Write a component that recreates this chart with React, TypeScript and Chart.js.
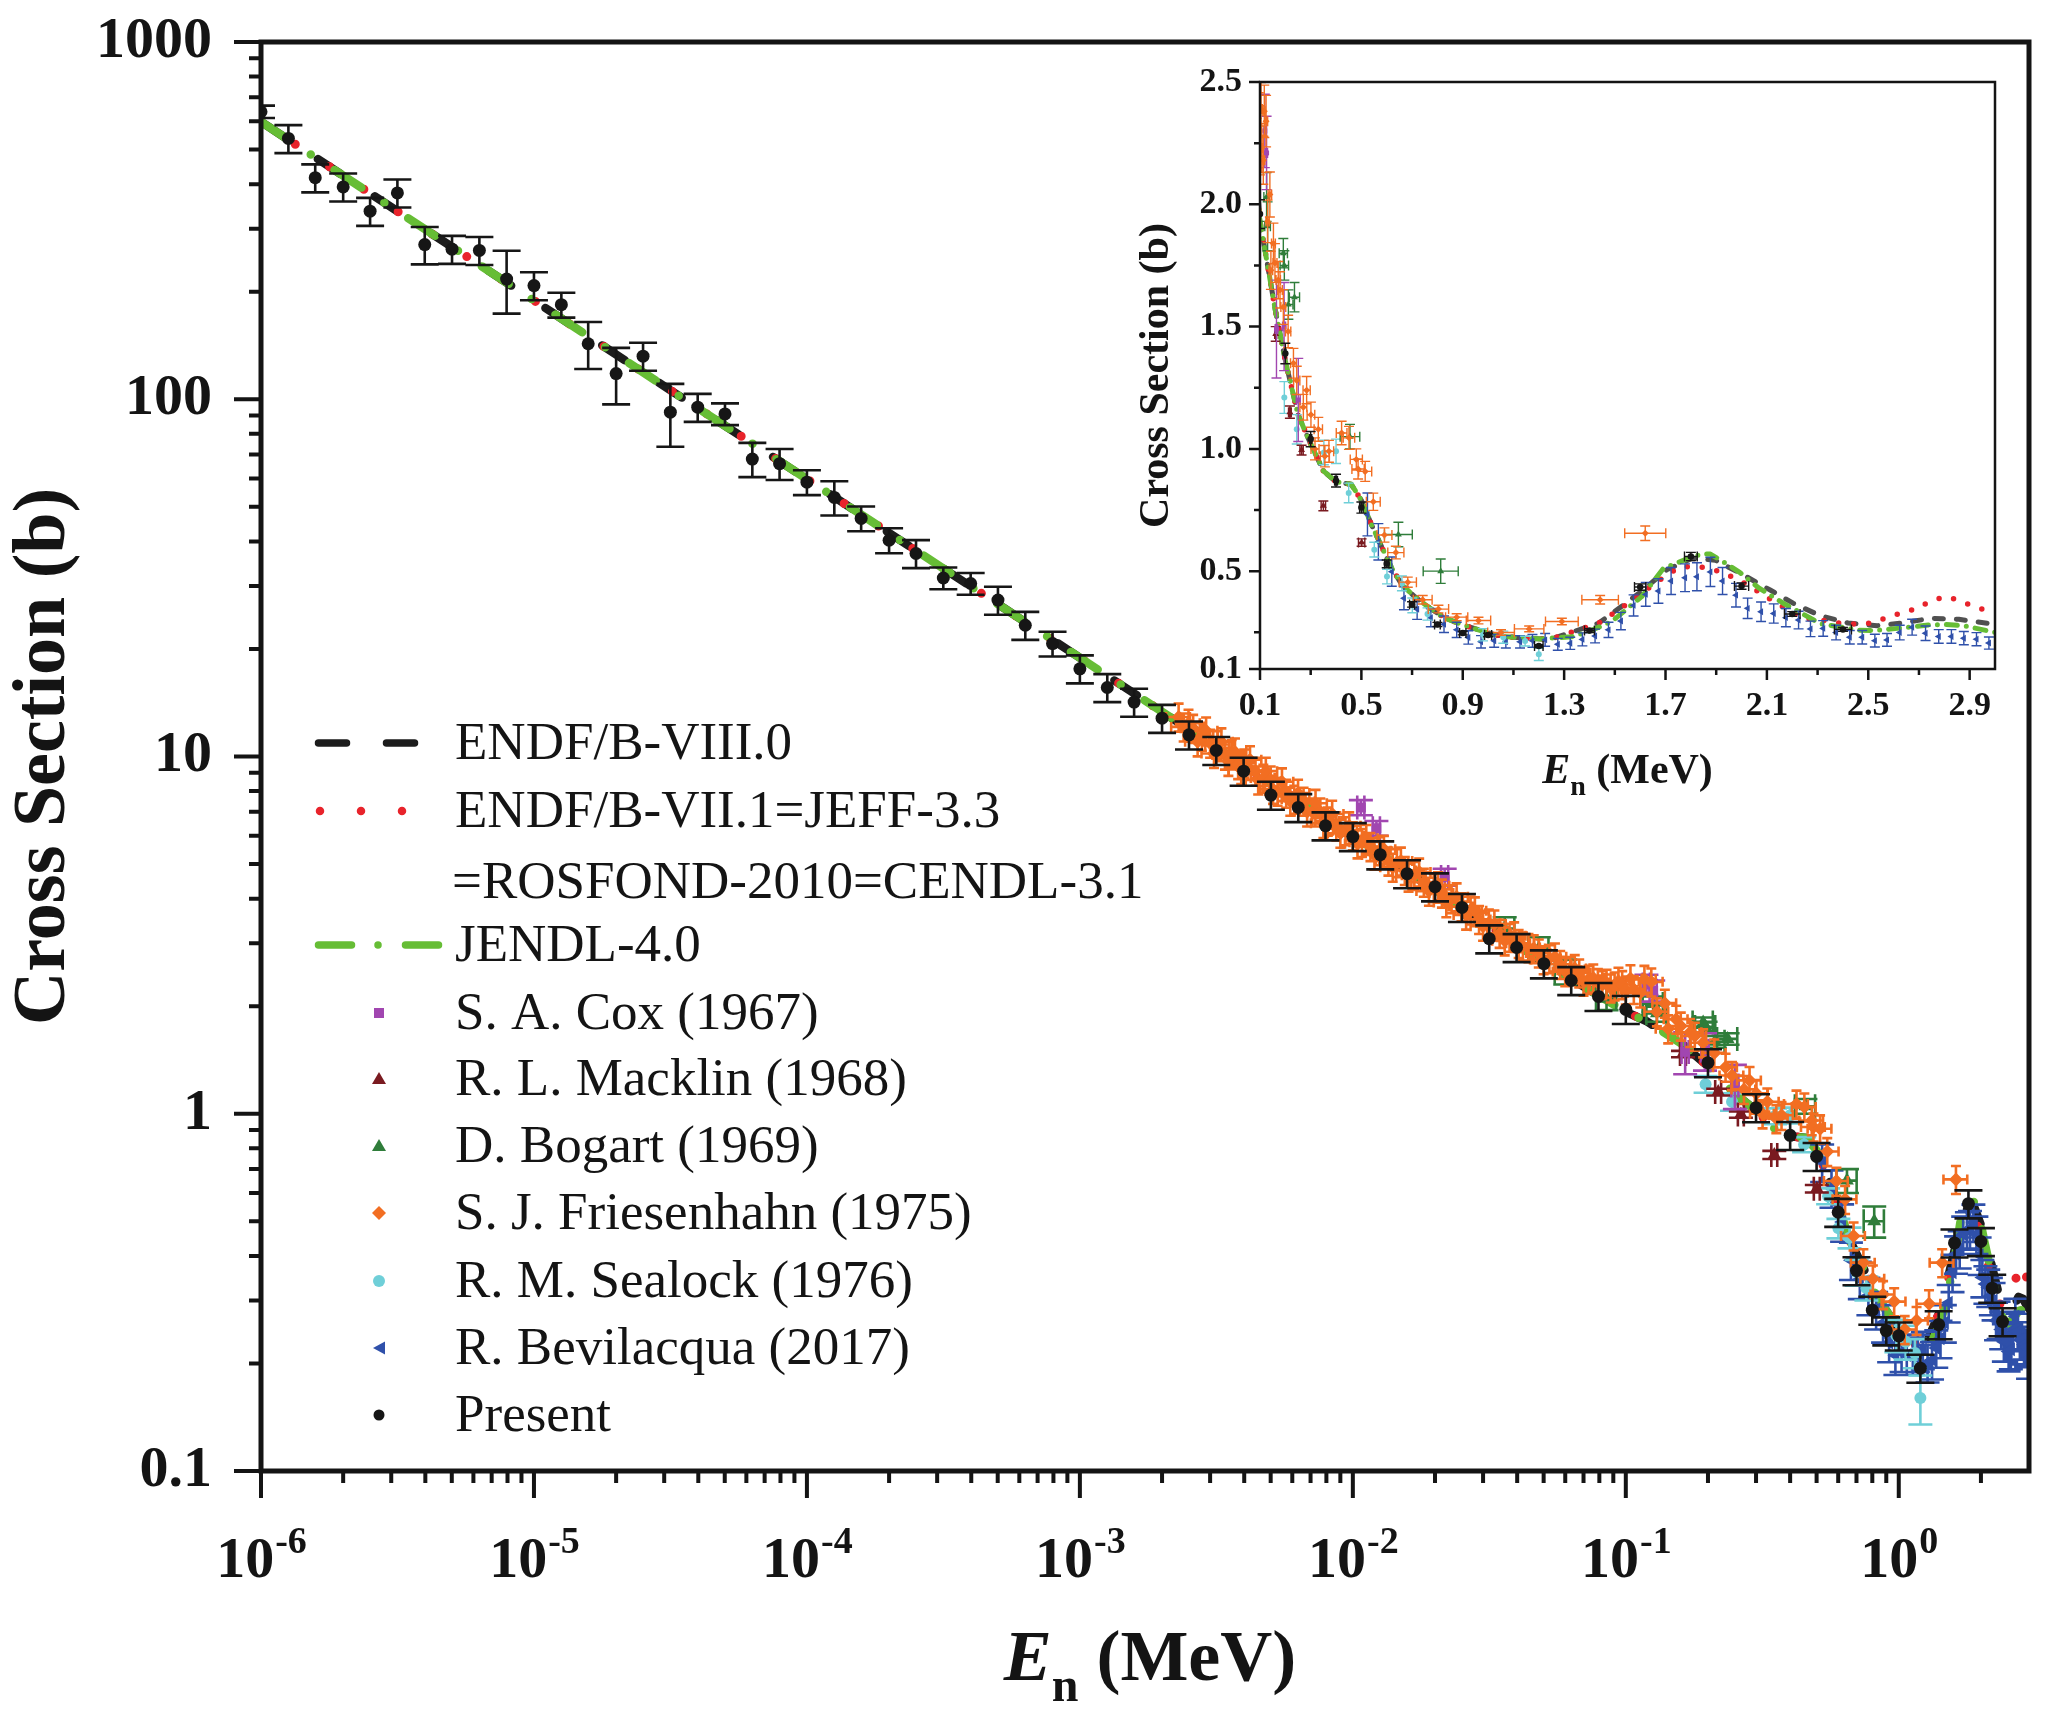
import React, { useEffect, useRef } from "react";
import { Chart, registerables } from "chart.js";

Chart.register(...registerables);

const SERIF = '"Liberation Serif", "Times New Roman", serif';
const INK = "#141414";

// ---------- evaluated libraries (they coincide below ~1.3 MeV) ----------
const evalLowE = [1e-6, 3.16e-6, 1e-5, 3.16e-5, 1e-4, 3.16e-4, 1e-3, 3.16e-3, 1e-2, 3.16e-2, 0.05, 0.1, 0.12, 0.16, 0.2, 0.25, 0.3, 0.35, 0.4, 0.46, 0.5, 0.54, 0.58, 0.62, 0.66, 0.71, 0.77, 0.83, 0.9, 0.98, 1.05, 1.13, 1.21, 1.26];
const evalLowSigma = [598, 336, 189, 106, 59.8, 33.6, 18.9, 10.6, 6.0, 3.36, 2.65, 1.93, 1.81, 1.57, 1.36, 1.14, 1.02, 0.91, 0.865, 0.855, 0.79, 0.69, 0.6, 0.512, 0.444, 0.396, 0.349, 0.308, 0.281, 0.254, 0.234, 0.227, 0.223, 0.227];

const endf8HighE = [1.317, 1.435, 1.527, 1.613, 1.705, 1.804, 1.896, 2.008, 2.113, 2.205, 2.311, 2.42, 2.535, 2.64, 2.745, 2.857, 2.969, 3.0];
const endf8HighSigma = [0.246, 0.287, 0.356, 0.424, 0.506, 0.552, 0.545, 0.484, 0.423, 0.368, 0.318, 0.288, 0.277, 0.289, 0.307, 0.303, 0.287, 0.285];

const endf7HighE = [1.317, 1.435, 1.527, 1.613, 1.692, 1.752, 1.818, 1.877, 1.94, 2.002, 2.061, 2.118, 2.173, 2.239, 2.305, 2.368, 2.436, 2.502, 2.565, 2.627, 2.693, 2.752, 2.814, 2.877, 2.94, 3.0];
const endf7HighSigma = [0.246, 0.287, 0.35, 0.415, 0.475, 0.515, 0.52, 0.511, 0.488, 0.457, 0.42, 0.382, 0.348, 0.307, 0.303, 0.289, 0.284, 0.287, 0.307, 0.328, 0.348, 0.382, 0.395, 0.372, 0.348, 0.33];

const jendlHighE = [1.33, 1.396, 1.488, 1.606, 1.692, 1.79, 1.843, 1.877, 1.937, 1.994, 2.066, 2.166, 2.219, 2.311, 2.462, 2.521, 2.587, 2.738, 2.804, 2.877, 2.99, 3.0];
const jendlHighSigma = [0.232, 0.253, 0.294, 0.396, 0.512, 0.552, 0.57, 0.57, 0.533, 0.494, 0.433, 0.368, 0.338, 0.285, 0.259, 0.257, 0.263, 0.28, 0.282, 0.277, 0.252, 0.25];

// ---------- experiments ----------
const presentE = [
  1e-6, 1.26e-6, 1.58e-6, 2.0e-6, 2.51e-6, 3.16e-6, 3.98e-6, 5.01e-6, 6.31e-6, 7.94e-6,
  1e-5, 1.26e-5, 1.58e-5, 2.0e-5, 2.51e-5, 3.16e-5, 3.98e-5, 5.01e-5, 6.31e-5, 7.94e-5,
  1e-4, 1.26e-4, 1.58e-4, 2.0e-4, 2.51e-4, 3.16e-4, 3.98e-4, 5.01e-4, 6.31e-4, 7.94e-4,
  1e-3, 1.26e-3, 1.58e-3, 2.0e-3, 2.51e-3, 3.16e-3, 3.98e-3, 5.01e-3, 6.31e-3, 7.94e-3,
  1e-2, 1.26e-2, 1.58e-2, 2.0e-2, 2.51e-2, 3.16e-2, 3.98e-2, 5.01e-2, 6.31e-2, 7.94e-2,
  0.1, 0.2, 0.3, 0.4, 0.5, 0.6, 0.7, 0.8, 0.9, 1.0, 1.2, 1.4, 1.6, 1.8, 2.0, 2.2, 2.4,
];
const presentSigma = [
  638, 537, 417, 393, 336, 378, 271, 263, 261, 217,
  208, 184, 143, 118, 132, 92, 95, 91, 68, 66,
  58.6, 53.1, 46.4, 40.3, 37.0, 31.6, 30.5, 27.4, 23.3, 20.7,
  17.6, 15.6, 14.2, 12.8, 11.5, 10.4, 9.1, 7.8, 7.2, 6.4,
  5.97, 5.31, 4.7, 4.32, 3.78, 3.09, 2.92, 2.63, 2.36, 2.13,
  1.96, 1.39, 1.04, 0.87, 0.76, 0.53, 0.364, 0.282, 0.247, 0.239, 0.194, 0.257, 0.435, 0.56, 0.439, 0.325, 0.262,
];
// relative uncertainty (%) as drawn in the main panel
const presentErrPct = [
  4, 9, 9, 9, 9, 9, 12, 9, 9, 20,
  9, 8, 15, 18, 9, 20, 9, 7, 11, 10,
  8, 11, 8, 8, 9, 7, 7, 9, 9, 8,
  9, 9, 9, 9, 9, 9, 9, 9, 9, 9,
  9, 9, 9, 9, 9, 9, 9, 9, 9, 9,
  9, 9, 9, 9, 9, 9, 9, 9, 9, 9, 9, 9, 9, 9, 9, 9, 9,
];
const presentInsetErrPct = 3;
const presentInsetEnergyErrPct = 1.4;

const coxE = [0.0107, 0.0122, 0.0217, 0.119, 0.126, 0.165, 0.195, 0.251];
const coxSigma = [7.2, 6.3, 4.6, 2.3, 2.21, 1.49, 1.5, 1.2];
const coxErr = [0.35, 0.3, 0.25, 0.15, 0.15, 0.2, 0.18, 0.17];

const macklinE = [0.162, 0.218, 0.264, 0.35, 0.501];
const macklinSigma = [1.47, 1.15, 0.995, 0.767, 0.617];
const macklinErr = [0.03, 0.025, 0.02, 0.02, 0.015];
const macklinEnergyErrPct = 2.5;

const bogartE = [0.036, 0.048, 0.06, 0.085, 0.126, 0.13, 0.192, 0.196, 0.212, 0.236, 0.455, 0.646, 0.813];
const bogartSigma = [3.3, 2.9, 2.5, 2.1, 2.03, 1.91, 1.8, 1.75, 1.59, 1.62, 1.05, 0.65, 0.5];
const bogartErr = [0.25, 0.22, 0.2, 0.15, 0.1, 0.1, 0.06, 0.06, 0.06, 0.06, 0.05, 0.05, 0.05];
const bogartEnergyErrPct = 8.5;

const friesenhahnE = [
  0.0023, 0.0024, 0.0025, 0.0026, 0.0027, 0.0028, 0.0029, 0.003, 0.0031, 0.0032,
  0.0033, 0.0034, 0.0035, 0.0036, 0.0037, 0.0038, 0.0039, 0.004, 0.0042, 0.0044,
  0.0045, 0.0047, 0.0048, 0.005, 0.0051, 0.0053, 0.0055, 0.0057, 0.0059, 0.0061,
  0.0063, 0.0066, 0.0068, 0.0071, 0.0073, 0.0076, 0.0078, 0.0081, 0.0084, 0.0087,
  0.009, 0.0094, 0.0097, 0.01, 0.0104, 0.0108, 0.0112, 0.0116, 0.012, 0.0125,
  0.013, 0.0135, 0.014, 0.0145, 0.015, 0.0155, 0.016, 0.0168, 0.0175, 0.0182,
  0.019, 0.0198, 0.0205, 0.0212, 0.022, 0.023, 0.024, 0.025, 0.026, 0.027,
  0.028, 0.029, 0.03, 0.0315, 0.033, 0.0345, 0.036, 0.0375, 0.039, 0.0405,
  0.042, 0.044, 0.046, 0.048, 0.05, 0.0525, 0.055, 0.0575, 0.06, 0.0625,
  0.065, 0.0675, 0.07, 0.073, 0.076, 0.079, 0.082, 0.085, 0.088, 0.091,
  0.094, 0.097, 0.1, 0.104, 0.107, 0.113, 0.117, 0.124, 0.13, 0.139,
  0.143, 0.153, 0.159, 0.172, 0.179, 0.192, 0.211, 0.232, 0.245, 0.271,
  0.284, 0.301, 0.317, 0.33, 0.356, 0.372, 0.422, 0.451, 0.48, 0.487,
  0.515, 0.547, 0.591, 0.636, 0.683, 0.742, 0.804, 0.876, 0.962, 1.051,
  1.162, 1.291, 1.442, 1.62,
];
const friesenhahnSigma = [
  12.9, 12.1, 12.4, 12.0, 11.0, 11.4, 11.8, 10.9, 10.2, 10.8,
  11.0, 10.1, 9.7, 10.2, 10.3, 9.5, 9.2, 9.6, 9.8, 9.1,
  8.6, 8.7, 9.1, 8.6, 8.1, 8.0, 8.5, 7.9, 7.5, 7.6,
  7.9, 7.5, 7.0, 7.0, 7.4, 7.0, 6.5, 6.6, 6.9, 6.4,
  6.1, 6.2, 6.4, 6.0, 5.7, 5.75, 5.9, 5.6, 5.3, 5.45,
  5.5, 5.1, 4.9, 5.05, 5.1, 4.8, 4.6, 4.65, 4.75, 4.45,
  4.2, 4.3, 4.35, 4.15, 3.9, 4.0, 4.05, 3.8, 3.6, 3.72,
  3.7, 3.5, 3.35, 3.42, 3.4, 3.2, 3.05, 3.12, 3.15, 3.0,
  2.95, 2.92, 2.9, 2.82, 2.7, 2.72, 2.75, 2.62, 2.5, 2.52,
  2.55, 2.48, 2.35, 2.38, 2.4, 2.33, 2.3, 2.32, 2.25, 2.28,
  2.35, 2.3, 2.22, 2.39, 2.23, 2.18, 2.38, 2.34, 1.93, 2.04,
  1.73, 1.84, 1.76, 1.69, 1.65, 1.58, 1.48, 1.35, 1.28, 1.17,
  1.24, 1.14, 1.0, 1.08, 0.97, 0.99, 1.065, 1.045, 0.957, 0.918,
  0.908, 0.784, 0.648, 0.576, 0.455, 0.383, 0.345, 0.312, 0.298, 0.249,
  0.264, 0.294, 0.383, 0.655,
];
const friesenhahnErrPct = { main: 9, inset: 4.5 };
const friesenhahnEnergyErrPct = { main: 10, inset: 5 };

const sealockE = [0.196, 0.245, 0.352, 0.4, 0.45, 0.551, 0.601, 0.66, 0.701, 0.761, 0.98, 1.06, 1.146, 1.2];
const sealockSigma = [1.21, 1.08, 0.985, 0.99, 0.82, 0.588, 0.478, 0.45, 0.36, 0.325, 0.24, 0.23, 0.214, 0.16];
const sealockErr = [0.065, 0.06, 0.05, 0.05, 0.04, 0.03, 0.03, 0.03, 0.03, 0.025, 0.025, 0.025, 0.02, 0.025];

const bevilacquaE = [
  0.524, 0.567, 0.62, 0.668, 0.72, 0.774, 0.826, 0.876, 0.922, 0.972,
  1.024, 1.07, 1.126, 1.175, 1.225, 1.275, 1.324, 1.372, 1.422, 1.475,
  1.524, 1.574, 1.622, 1.672, 1.722, 1.777, 1.824, 1.877, 1.925, 1.978,
  2.024, 2.077, 2.127, 2.175, 2.225, 2.272, 2.322, 2.373, 2.427, 2.476,
  2.526, 2.574, 2.624, 2.673, 2.726, 2.778, 2.828, 2.877, 2.927, 2.976,
];
const bevilacquaSigma = [
  0.732, 0.62, 0.498, 0.389, 0.344, 0.31, 0.283, 0.26, 0.229, 0.211,
  0.215, 0.211, 0.211, 0.215, 0.219, 0.201, 0.205, 0.221, 0.235, 0.26,
  0.296, 0.36, 0.405, 0.419, 0.46, 0.473, 0.477, 0.497, 0.46, 0.402,
  0.348, 0.334, 0.327, 0.31, 0.3, 0.264, 0.266, 0.249, 0.23, 0.23,
  0.216, 0.219, 0.249, 0.271, 0.246, 0.233, 0.233, 0.226, 0.222, 0.206,
];
const bevilacquaErrPct = 12;

// ---------- axes ----------
const mainXTicks = [1e-6, 1e-5, 1e-4, 1e-3, 1e-2, 1e-1, 1];
const mainXExponents = ["-6", "-5", "-4", "-3", "-2", "-1", "0"];
const mainYTicks = [0.1, 1, 10, 100, 1000];
const mainYLabels = ["0.1", "1", "10", "100", "1000"];

const insetXTicks = [0.1, 0.5, 0.9, 1.3, 1.7, 2.1, 2.5, 2.9];
const insetXLabels = ["0.1", "0.5", "0.9", "1.3", "1.7", "2.1", "2.5", "2.9"];
const insetXMinor = [0.3, 0.7, 1.1, 1.5, 1.9, 2.3, 2.7];
const insetYTicks = [0.1, 0.5, 1.0, 1.5, 2.0, 2.5];
const insetYLabels = ["0.1", "0.5", "1.0", "1.5", "2.0", "2.5"];
const insetYMinor = [0.25, 0.75, 1.25, 1.75, 2.25];

const legendRows = [
  { text: "ENDF/B-VIII.0", kind: "dash", y: 743 },
  { text: "ENDF/B-VII.1=JEFF-3.3", kind: "dot", y: 811 },
  { text: "=ROSFOND-2010=CENDL-3.1", kind: "none", y: 882 },
  { text: "JENDL-4.0", kind: "dashdot", y: 945 },
  { text: "S. A. Cox (1967)", kind: "square", y: 1013 },
  { text: "R. L. Macklin (1968)", kind: "triMacklin", y: 1079 },
  { text: "D. Bogart (1969)", kind: "triBogart", y: 1146 },
  { text: "S. J. Friesenhahn (1975)", kind: "diamond", y: 1213 },
  { text: "R. M. Sealock (1976)", kind: "circleCyan", y: 1281 },
  { text: "R. Bevilacqua (2017)", kind: "triLeft", y: 1348 },
  { text: "Present", kind: "circleBlack", y: 1415 },
];

const C = {
  endf8: "#1c1c1c",
  endf8Inset: "#505050",
  endf7: "#e8232b",
  jendl: "#66bd35",
  present: "#161616",
  cox: "#a146b0",
  macklin: "#7a1a20",
  bogart: "#2f7d3a",
  friesenhahn: "#f26e22",
  sealock: "#6fcfd8",
  bevilacqua: "#2f50aa",
};

const W = 2047;
const H = 1713;
const INSET = { left: 1100, top: 40, width: 940, height: 780 };

type Pt = { x: number; y: number; ey: number; ex: number };

const points = (E: number[], S: number[], dS: number[], dE: number[]): Pt[] =>
  E.map((e, i) => ({ x: e, y: S[i], ey: dS[i] || 0, ex: dE[i] || 0 }));
const curve = (E: number[], S: number[]) => E.map((e, i) => ({ x: e, y: S[i] }));
const pct = (arr: number[], p: number | number[]) =>
  arr.map((v, i) => (v * (Array.isArray(p) ? p[i] : p)) / 100);

// ---------- plugins ----------
const errorBarPlugin = {
  id: "errorBars",
  beforeDatasetDraw(chart: any, args: any) {
    const ds = chart.data.datasets[args.index];
    if (!ds.errBars) return;
    const { ctx, chartArea: a } = chart;
    const xs = chart.scales.x;
    const ys = chart.scales.y;
    const { color, width, cap } = ds.errBars;
    const logY = ys.type === "logarithmic";
    ctx.save();
    ctx.beginPath();
    ctx.rect(a.left, a.top, a.right - a.left, a.bottom - a.top);
    ctx.clip();
    ctx.strokeStyle = color;
    ctx.lineWidth = width;
    ctx.lineCap = "butt";
    ctx.beginPath();
    for (const p of ds.data as Pt[]) {
      const px = xs.getPixelForValue(p.x);
      const py = ys.getPixelForValue(p.y);
      if (px < a.left - 60 || px > a.right + 60) continue;
      if (p.ey > 0) {
        const t = ys.getPixelForValue(p.y + p.ey);
        const lowV = p.y - p.ey;
        const b = ys.getPixelForValue(logY && lowV <= 0 ? p.y * 0.5 : lowV);
        ctx.moveTo(px, t);
        ctx.lineTo(px, b);
        ctx.moveTo(px - cap, t);
        ctx.lineTo(px + cap, t);
        ctx.moveTo(px - cap, b);
        ctx.lineTo(px + cap, b);
      }
      if (p.ex > 0) {
        const l = xs.getPixelForValue(p.x - p.ex);
        const r = xs.getPixelForValue(p.x + p.ex);
        ctx.moveTo(l, py);
        ctx.lineTo(r, py);
        ctx.moveTo(l, py - cap);
        ctx.lineTo(l, py + cap);
        ctx.moveTo(r, py - cap);
        ctx.lineTo(r, py + cap);
      }
    }
    ctx.stroke();
    ctx.restore();
  },
};

const drawEnTitle = (ctx: CanvasRenderingContext2D, cx: number, base: number, big: number, small: number, drop: number) => {
  ctx.textAlign = "left";
  ctx.textBaseline = "alphabetic";
  ctx.font = `italic bold ${big}px ${SERIF}`;
  const wE = ctx.measureText("E").width;
  ctx.font = `bold ${small}px ${SERIF}`;
  const wn = ctx.measureText("n").width;
  ctx.font = `bold ${big}px ${SERIF}`;
  const wr = ctx.measureText(" (MeV)").width;
  const x0 = cx - (wE + wn + wr) / 2;
  ctx.font = `italic bold ${big}px ${SERIF}`;
  ctx.fillText("E", x0, base);
  ctx.font = `bold ${small}px ${SERIF}`;
  ctx.fillText("n", x0 + wE, base + drop);
  ctx.font = `bold ${big}px ${SERIF}`;
  ctx.fillText(" (MeV)", x0 + wE + wn, base);
};

const drawRotated = (ctx: CanvasRenderingContext2D, text: string, x: number, y: number, font: string) => {
  ctx.save();
  ctx.translate(x, y);
  ctx.rotate(-Math.PI / 2);
  ctx.font = font;
  ctx.textAlign = "center";
  ctx.textBaseline = "middle";
  ctx.fillText(text, 0, 0);
  ctx.restore();
};

const strokeDashed = (ctx: CanvasRenderingContext2D, x0: number, x1: number, y: number, color: string, width: number, dash: number[]) => {
  ctx.save();
  ctx.strokeStyle = color;
  ctx.lineWidth = width;
  ctx.lineCap = "round";
  ctx.setLineDash(dash);
  ctx.beginPath();
  ctx.moveTo(x0, y);
  ctx.lineTo(x1, y);
  ctx.stroke();
  ctx.restore();
};

const drawLegend = (ctx: CanvasRenderingContext2D) => {
  const mx = 379;
  for (const row of legendRows) {
    const y = row.y;
    ctx.beginPath();
    switch (row.kind) {
      case "dash":
        strokeDashed(ctx, 318.5, 414.5, y, C.endf8, 7.5, [28, 40]);
        break;
      case "dot":
        strokeDashed(ctx, 320, 402.5, y, C.endf7, 8.5, [0, 41]);
        break;
      case "dashdot":
        strokeDashed(ctx, 318.5, 438.5, y, C.jendl, 7.5, [33, 26.5, 0, 27.5]);
        break;
      case "square":
        ctx.fillStyle = C.cox;
        ctx.fillRect(mx - 5, y - 5, 10, 10);
        break;
      case "triMacklin":
      case "triBogart":
        ctx.fillStyle = row.kind === "triMacklin" ? C.macklin : C.bogart;
        ctx.moveTo(mx, y - 7);
        ctx.lineTo(mx + 7, y + 5);
        ctx.lineTo(mx - 7, y + 5);
        ctx.closePath();
        ctx.fill();
        break;
      case "diamond":
        ctx.fillStyle = C.friesenhahn;
        ctx.moveTo(mx, y - 7);
        ctx.lineTo(mx + 7, y);
        ctx.lineTo(mx, y + 7);
        ctx.lineTo(mx - 7, y);
        ctx.closePath();
        ctx.fill();
        break;
      case "circleCyan":
        ctx.fillStyle = C.sealock;
        ctx.arc(mx, y, 6, 0, Math.PI * 2);
        ctx.fill();
        break;
      case "triLeft":
        ctx.fillStyle = C.bevilacqua;
        ctx.moveTo(mx - 6, y);
        ctx.lineTo(mx + 6, y - 6.5);
        ctx.lineTo(mx + 6, y + 6.5);
        ctx.closePath();
        ctx.fill();
        break;
      case "circleBlack":
        ctx.fillStyle = C.present;
        ctx.arc(mx, y, 5.5, 0, Math.PI * 2);
        ctx.fill();
        break;
    }
    ctx.fillStyle = INK;
    ctx.font = `53px ${SERIF}`;
    ctx.textAlign = "left";
    ctx.textBaseline = "middle";
    ctx.fillText(row.text, row.kind === "none" ? 452 : 455, y + 2);
  }
};

const mainDecor = {
  id: "mainDecor",
  afterDraw(chart: any) {
    const { ctx, chartArea: a } = chart;
    const xs = chart.scales.x;
    const ys = chart.scales.y;
    ctx.save();
    ctx.strokeStyle = INK;
    ctx.fillStyle = INK;
    ctx.lineCap = "butt";
    ctx.lineWidth = 4;
    ctx.beginPath();
    for (let d = -1; d <= 3; d++) {
      for (let m = 1; m <= 9; m++) {
        const v = m * Math.pow(10, d);
        if (v > 1000.0001) break;
        const py = ys.getPixelForValue(v);
        ctx.moveTo(a.left, py);
        ctx.lineTo(a.left - (m === 1 ? 27 : 12), py);
      }
    }
    for (let d = -6; d <= 0; d++) {
      for (let m = 1; m <= 9; m++) {
        const v = m * Math.pow(10, d);
        if (v > 2.99) break;
        const px = xs.getPixelForValue(v);
        ctx.moveTo(px, a.bottom);
        ctx.lineTo(px, a.bottom + (m === 1 ? 27 : 12));
      }
    }
    ctx.stroke();
    ctx.lineWidth = 5;
    ctx.strokeRect(a.left, a.top, a.right - a.left, a.bottom - a.top);

    ctx.font = `bold 58px ${SERIF}`;
    ctx.textAlign = "right";
    ctx.textBaseline = "middle";
    mainYTicks.forEach((v, i) => ctx.fillText(mainYLabels[i], a.left - 49, ys.getPixelForValue(v)));

    mainXTicks.forEach((v, i) => {
      const px = xs.getPixelForValue(v);
      ctx.font = `bold 58px ${SERIF}`;
      const w1 = ctx.measureText("10").width;
      ctx.font = `bold 38px ${SERIF}`;
      const w2 = ctx.measureText(mainXExponents[i]).width;
      const x0 = px - (w1 + w2) / 2;
      ctx.textAlign = "left";
      ctx.textBaseline = "alphabetic";
      ctx.font = `bold 58px ${SERIF}`;
      ctx.fillText("10", x0, a.bottom + 106);
      ctx.font = `bold 38px ${SERIF}`;
      ctx.fillText(mainXExponents[i], x0 + w1 + 1, a.bottom + 82);
    });

    drawRotated(ctx, "Cross Section (b)", 45, (a.top + a.bottom) / 2, `bold 74px ${SERIF}`);
    drawEnTitle(ctx, (a.left + a.right) / 2 + 5, a.bottom + 209, 72, 48, 21);
    drawLegend(ctx);
    ctx.restore();
  },
};

const insetDecor = {
  id: "insetDecor",
  afterDraw(chart: any) {
    const { ctx, chartArea: a } = chart;
    const xs = chart.scales.x;
    const ys = chart.scales.y;
    ctx.save();
    ctx.strokeStyle = INK;
    ctx.fillStyle = INK;
    ctx.lineWidth = 2.5;
    ctx.lineCap = "butt";
    ctx.beginPath();
    insetXTicks.forEach((v) => {
      const px = xs.getPixelForValue(v);
      ctx.moveTo(px, a.bottom);
      ctx.lineTo(px, a.bottom + 11);
    });
    insetXMinor.forEach((v) => {
      const px = xs.getPixelForValue(v);
      ctx.moveTo(px, a.bottom);
      ctx.lineTo(px, a.bottom + 6);
    });
    insetYTicks.forEach((v) => {
      const py = ys.getPixelForValue(v);
      ctx.moveTo(a.left, py);
      ctx.lineTo(a.left - 11, py);
    });
    insetYMinor.forEach((v) => {
      const py = ys.getPixelForValue(v);
      ctx.moveTo(a.left, py);
      ctx.lineTo(a.left - 6, py);
    });
    ctx.stroke();
    ctx.strokeRect(a.left, a.top, a.right - a.left, a.bottom - a.top);

    ctx.font = `bold 34px ${SERIF}`;
    ctx.textAlign = "center";
    ctx.textBaseline = "middle";
    insetXTicks.forEach((v, i) => ctx.fillText(insetXLabels[i], xs.getPixelForValue(v), a.bottom + 37));
    ctx.textAlign = "right";
    insetYTicks.forEach((v, i) => ctx.fillText(insetYLabels[i], a.left - 18, ys.getPixelForValue(v)));

    drawRotated(ctx, "Cross Section (b)", a.left - 103, (a.top + a.bottom) / 2, `bold 42px ${SERIF}`);
    drawEnTitle(ctx, (a.left + a.right) / 2, a.bottom + 114, 42, 28, 12);
    ctx.restore();
  },
};

// ---------- datasets ----------
const buildDatasets = (main: boolean) => {
  const s = main ? 1 : 0.5;
  const ew = main ? 2.6 : 1.4;
  const cap = main ? 12 : 5;
  const marker = (label: string, data: Pt[], style: string, color: string, radius: number, order: number, capHalf = cap, rotation = 0) => ({
    label,
    data,
    pointStyle: style,
    pointRadius: radius * s,
    pointRotation: rotation,
    pointBackgroundColor: color,
    pointBorderWidth: 0,
    showLine: false,
    order,
    errBars: { color, width: ew, cap: capHalf },
  });
  const line = (label: string, data: { x: number; y: number }[], color: string, width: number, dash: number[], order: number) => ({
    label,
    data,
    showLine: true,
    pointRadius: 0,
    borderColor: color,
    borderWidth: width,
    borderDash: dash,
    borderCapStyle: "round",
    borderJoinStyle: "round",
    tension: 0,
    fill: false,
    order,
  });

  const presentPts = main
    ? points(presentE, presentSigma, pct(presentSigma, presentErrPct), [])
    : points(presentE, presentSigma, pct(presentSigma, presentInsetErrPct), pct(presentE, presentInsetEnergyErrPct));
  const fKey = main ? "main" : "inset";

  return [
    line("ENDF/B-VIII.0", curve([...evalLowE, ...endf8HighE], [...evalLowSigma, ...endf8HighSigma]),
      main ? C.endf8 : C.endf8Inset, main ? 8.5 : 5, main ? [27, 41] : [9, 13], 12),
    line("ENDF/B-VII.1=JEFF-3.3=ROSFOND-2010=CENDL-3.1", curve([...evalLowE, ...endf7HighE], [...evalLowSigma, ...endf7HighSigma]),
      C.endf7, main ? 9 : 5.5, main ? [0, 41] : [0, 15], 11),
    line("JENDL-4.0", curve([...evalLowE, ...jendlHighE], [...evalLowSigma, ...jendlHighSigma]),
      C.jendl, main ? 8.5 : 5, main ? [32, 27.5, 0, 28.5] : [11, 9, 0, 9], 10),
    marker("R. Bevilacqua (2017)", points(bevilacquaE, bevilacquaSigma, pct(bevilacquaSigma, bevilacquaErrPct), []),
      "triangle", C.bevilacqua, 8, 7, cap, -90),
    marker("R. M. Sealock (1976)", points(sealockE, sealockSigma, sealockErr, []), "circle", C.sealock, 6, 6),
    marker("D. Bogart (1969)", points(bogartE, bogartSigma, bogartErr, pct(bogartE, bogartEnergyErrPct)), "triangle", C.bogart, 8, 5),
    marker("R. L. Macklin (1968)", points(macklinE, macklinSigma, macklinErr, pct(macklinE, macklinEnergyErrPct)), "triangle", C.macklin, 8, 4),
    marker("S. A. Cox (1967)", points(coxE, coxSigma, coxErr, pct(coxE, 3)), "rect", C.cox, 7, 3),
    marker("S. J. Friesenhahn (1975)",
      points(friesenhahnE, friesenhahnSigma, pct(friesenhahnSigma, friesenhahnErrPct[fKey]), pct(friesenhahnE, friesenhahnEnergyErrPct[fKey])),
      "rectRot", C.friesenhahn, 7, 2, main ? 5 : 5),
    marker("Present", presentPts, "circle", C.present, 6.5, 0, main ? 14 : 5),
  ];
};

const hiddenAxis = {
  ticks: { display: false },
  grid: { display: false },
  border: { display: false },
};

const makeConfig = (main: boolean): any => ({
  type: "scatter",
  data: { datasets: buildDatasets(main) },
  options: {
    responsive: false,
    animation: false,
    devicePixelRatio: 1,
    events: [],
    layout: main
      ? { padding: { left: 0, top: 42, right: W - 2029, bottom: 0 } }
      : { padding: { left: 0, top: 82 - INSET.top, right: INSET.left + INSET.width - 1995, bottom: 0 } },
    plugins: { legend: { display: false }, tooltip: { enabled: false } },
    scales: main
      ? {
          x: { ...hiddenAxis, type: "logarithmic", min: 1e-6, max: 3, afterFit: (sc: any) => { sc.height = H - 1471; } },
          y: { ...hiddenAxis, type: "logarithmic", min: 0.1, max: 1000, afterFit: (sc: any) => { sc.width = 261; } },
        }
      : {
          x: { ...hiddenAxis, type: "linear", min: 0.1, max: 3.0, afterFit: (sc: any) => { sc.height = INSET.height - (669 - INSET.top); } },
          y: { ...hiddenAxis, type: "linear", min: 0.1, max: 2.5, afterFit: (sc: any) => { sc.width = 1260 - INSET.left; } },
        },
  },
  plugins: [errorBarPlugin, main ? mainDecor : insetDecor],
});

export default function App() {
  const mainRef = useRef<HTMLCanvasElement>(null);
  const insetRef = useRef<HTMLCanvasElement>(null);

  useEffect(() => {
    if (!mainRef.current || !insetRef.current) return;
    const mainChart = new Chart(mainRef.current, makeConfig(true));
    const insetChart = new Chart(insetRef.current, makeConfig(false));
    return () => {
      mainChart.destroy();
      insetChart.destroy();
    };
  }, []);

  return (
    <div style={{ position: "absolute", left: 0, top: 0, width: W, height: H, overflow: "hidden", background: "#fff" }}>
      <canvas ref={mainRef} width={W} height={H} style={{ position: "absolute", left: 0, top: 0, width: W, height: H }} />
      <canvas
        ref={insetRef}
        width={INSET.width}
        height={INSET.height}
        style={{ position: "absolute", left: INSET.left, top: INSET.top, width: INSET.width, height: INSET.height }}
      />
    </div>
  );
}
